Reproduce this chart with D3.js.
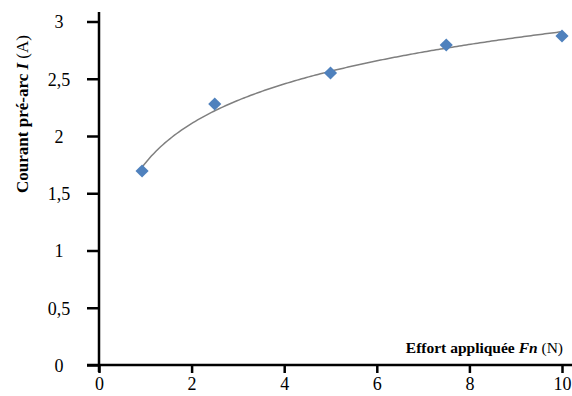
<!DOCTYPE html>
<html>
<head>
<meta charset="utf-8">
<script src="https://cdn.jsdelivr.net/npm/d3@7"></script>
<style>
  body { margin: 0; background: #fff; }
  text { font-family: "Liberation Serif", "Times New Roman", serif; }
</style>
</head>
<body>
<svg id="chart"></svg>
<script>
// values
const effort = [0.93, 2.5, 5, 7.5, 10];          // Fn (N)
const courant = [1.694, 2.279, 2.55, 2.795, 2.873]; // I (A)
const xTicks = [0, 2, 4, 6, 8, 10];
const yTicks = [0, 0.5, 1, 1.5, 2, 2.5, 3];

const width = 572, height = 396;
const margin = {top: 21.5, right: 10, bottom: 31, left: 99};

const svg = d3.select('#chart')
    .attr('width', width)
    .attr('height', height);

const xscale = d3.scaleLinear()
    .domain([0, 10])
    .range([margin.left, width - margin.right]);

const yscale = d3.scaleLinear()
    .domain([0, 3])
    .range([height - margin.bottom, margin.top]);

const fmt = d => String(d).replace('.', ',');

// axes
const xaxis = d3.axisBottom(xscale).tickValues(xTicks).tickSize(8).tickFormat(fmt);
const yaxis = d3.axisLeft(yscale).tickValues(yTicks).tickSize(12).tickFormat(fmt);

const xg = svg.append('g')
    .attr('transform', `translate(0, ${yscale(0)})`)
    .call(xaxis);
const yg = svg.append('g')
    .attr('transform', `translate(${xscale(0)}, 0)`)
    .call(yaxis);

[xg, yg].forEach(g => {
    g.attr('font-family', null);
    g.select('.domain').remove();
    g.selectAll('line').attr('stroke', '#000').attr('stroke-width', 2.5);
    g.selectAll('text')
        .attr('fill', '#000')
        .style('font-size', '18px');
});

xg.selectAll('text').attr('y', 25).attr('dy', null);
yg.selectAll('text')
    .attr('text-anchor', 'middle')
    .attr('x', -40)
    .attr('dy', '0.35em');

// axis lines, a little past the ticks like the original
svg.append('line')
    .attr('x1', xscale(0) - 12).attr('x2', width)
    .attr('y1', yscale(0)).attr('y2', yscale(0))
    .attr('stroke', '#000').attr('stroke-width', 2.5);
svg.append('line')
    .attr('x1', xscale(0)).attr('x2', xscale(0))
    .attr('y1', yscale(0) + 7).attr('y2', margin.top - 9.5)
    .attr('stroke', '#000').attr('stroke-width', 2.5);

// logarithmic trendline, least squares on ln(x)
const lx = effort.map(Math.log);
const mx = d3.mean(lx), my = d3.mean(courant);
const a = d3.sum(lx, (v, i) => (v - mx) * (courant[i] - my)) / d3.sum(lx, v => (v - mx) ** 2);
const b = my - a * mx;
const trendX = d3.range(effort[0], effort[effort.length - 1] + 0.001, 0.05);

const line = d3.line()
    .x(d => xscale(d))
    .y(d => yscale(a * Math.log(d) + b));

svg.append('path')
    .attr('d', line(trendX))
    .attr('fill', 'none')
    .attr('stroke', '#7f7f7f')
    .attr('stroke-width', 1.5);

// diamond markers
const diamond = d3.symbol().type(d3.symbolDiamond2).size(110);
svg.selectAll('.pt')
    .data(effort)
    .join('path')
    .attr('class', 'pt')
    .attr('d', diamond)
    .attr('transform', (d, i) => `translate(${xscale(d)}, ${yscale(courant[i])})`)
    .attr('fill', '#4f81bd');

// axis titles
const xlab = svg.append('text')
    .attr('x', 563)
    .attr('y', 353)
    .attr('text-anchor', 'end')
    .style('font-size', '15.5px');
xlab.append('tspan').attr('font-weight', 'bold').text('Effort appliquée ');
xlab.append('tspan').attr('font-weight', 'bold').attr('font-style', 'italic').text('Fn');
xlab.append('tspan').text(' (N)');

const ylab = svg.append('text')
    .attr('transform', 'translate(28, 114) rotate(-90)')
    .attr('text-anchor', 'middle')
    .style('font-size', '17px');
ylab.append('tspan').attr('font-weight', 'bold').text('Courant pré-arc ');
ylab.append('tspan').attr('font-weight', 'bold').attr('font-style', 'italic').text('I');
ylab.append('tspan').text(' (A)');
</script>
</body>
</html>
